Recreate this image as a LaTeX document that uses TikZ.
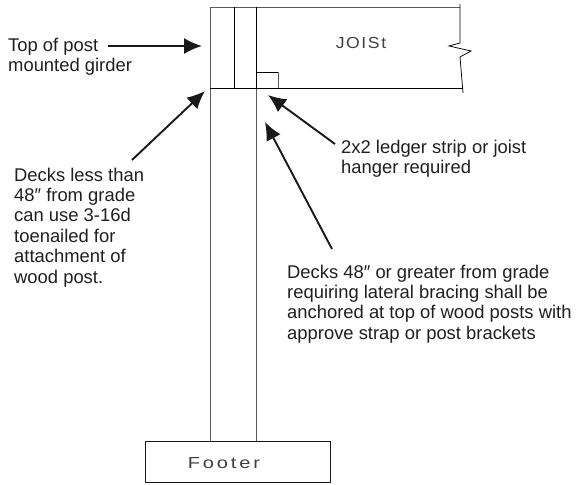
\documentclass[tikz,border=0pt]{standalone}
\usepackage{fontspec}
\setmainfont{Liberation Sans}
\newfontfamily\cadfontA[FakeStretch=1.25,LetterSpace=18]{Liberation Sans}
\newfontfamily\cadfontB[FakeStretch=1.1,LetterSpace=10]{Liberation Sans}
\usetikzlibrary{arrows.meta}
\tikzset{
  wire/.style={draw=black!65,line width=0.9pt},
  thin wire/.style={draw=black,line width=0.75pt},
  callout/.style={draw=black!90,line width=1.9pt,-{Latex[length=18pt,width=16pt]}},
  note/.style={font=\fontsize{18.4}{20.4}\selectfont,align=left,anchor=north west,inner sep=0pt,text=black!88},
  cad/.style={inner sep=0pt,text=black!75}
}
\begin{document}
\begin{tikzpicture}[x=1pt,y=-1pt]
\useasboundingbox (0,0) rectangle (577,484);
% joist and post
\coordinate (jtl) at (210,7);
\coordinate (jtr) at (460,7);
\coordinate (jbl) at (210,88.5);
\coordinate (jbr) at (463,88.5);
\draw[wire] (jtl) -- (jtr);
\draw[wire] (jtl) -- (210,441);
\draw[thin wire] (234.5,7) -- (234.5,88.5);
\draw[thin wire] (256,7) -- (256,88.5);
\draw[wire] (256,88.5) -- (256,441);
\draw[thin wire] (jbl) -- (jbr);
\draw[thin wire] (256,72) -- (278,72);
\draw[wire] (278,72) -- (278,88.5);
\draw[thin wire] (460,4) -- (460,43) -- (449,46) -- (471,51) -- (460,57) -- (463,93);
% footer
\node[draw=black!90,line width=0.75pt,minimum width=185pt,minimum height=41pt,inner sep=0pt,anchor=north west] (footer) at (145,441) {};
\node[cad,font=\cadfontA\fontsize{16}{18}\selectfont] (footertext) at (224,463) {Footer};
\node[cad,font=\cadfontB\fontsize{16}{18}\selectfont] (joisttext) at (361,42.5) {JOISt};
% labels
\node[note] (top) at (8,38) {Top of post\\mounted girder};
\node[note] (less) at (14,167.5) {Decks less than\\48″ from grade\\can use 3-16d\\toenailed for\\attachment of\\wood post.};
\node[note] (ledger) at (341,139.5) {2x2 ledger strip or joist\\hanger required};
\node[note] (greater) at (287,264.5) {Decks 48″ or greater from grade\\requiring lateral bracing shall be\\anchored at top of wood posts with\\approve strap or post brackets};
% arrow ends
\coordinate (a1) at (108,46);
\coordinate (b1) at (202,46);
\coordinate (a2) at (132,160);
\coordinate (b2) at (205,91);
\coordinate (a3) at (335,144);
\coordinate (b3) at (268,95);
\coordinate (a4) at (332,249);
\coordinate (b4) at (265,122);
\draw[callout] (a1) -- (b1);
\draw[callout] (a2) -- (b2);
\draw[callout] (a3) -- (b3);
\draw[callout] (a4) -- (b4);
\end{tikzpicture}
\end{document}
